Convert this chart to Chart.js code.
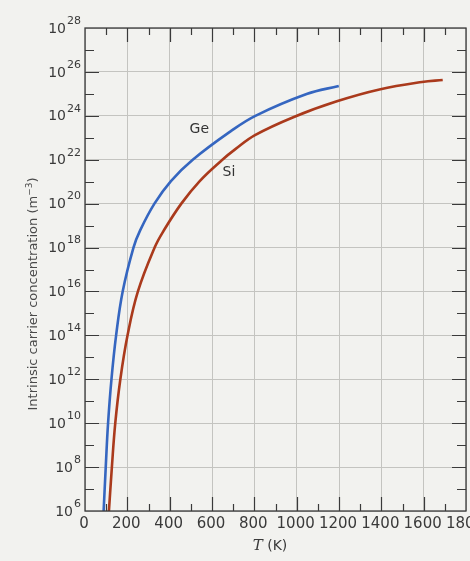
<!DOCTYPE html>
<html>
<head>
<meta charset="utf-8">
<script src="https://cdn.jsdelivr.net/npm/chart.js@4.4.1/dist/chart.umd.min.js"></script>
<style>
  html, body { margin: 0; padding: 0; background: #f2f2ef; }
  #wrap { width: 470px; height: 561px; }
</style>
</head>
<body>
<div id="wrap"><canvas id="c" width="470" height="561"></canvas></div>
<script>
// ---- data ----
const temperatureTicks = [0, 200, 400, 600, 800, 1000, 1200, 1400, 1600, 1800];
const concentrationExponents = [6, 8, 10, 12, 14, 16, 18, 20, 22, 24, 26, 28];

// Germanium: temperature (K) and intrinsic carrier concentration (m^-3)
const geTemperature = [88, 98, 109, 125, 147, 178, 229, 260, 328, 406, 509, 689, 805, 1047, 1199];
const geConcentration = [1e6, 1e8, 1e10, 1e12, 1e14, 1e16, 1e18, 5.9e18, 1e20, 1.07e21, 1e22, 2e23, 1e24, 9.8e24, 2.3e25];

// Silicon
const siTemperature = [113, 127, 143, 167, 201, 250, 329, 372, 455, 542, 649, 709, 803, 987, 1190, 1391, 1592, 1690];
const siConcentration = [1e6, 1e8, 1e10, 1e12, 1e14, 1e16, 1e18, 5.9e18, 1e20, 1.07e21, 1e22, 2.95e22, 1.32e23, 8.9e23, 4.57e24, 1.58e25, 3.47e25, 4.27e25];

const seriesLabels = [
  { text: 'Ge', x: 540, y: 2.3e23 },
  { text: 'Si', x: 680, y: 2.8e21 }
];
const xTitle = ['T', ' (K)'];
const yTitle = ['Intrinsic carrier concentration (m', '\u22123', ')'];

const geColor = '#3566c0';
const siColor = '#aa3a1c';
const inkColor = '#3a3a3a';

function toPoints(xs, ys) { return xs.map((x, i) => ({ x: x, y: ys[i] })); }

const decorPlugin = {
  id: 'decor',
  beforeDraw(chart) {
    const ctx = chart.ctx;
    ctx.save();
    ctx.fillStyle = '#f2f2ef';
    ctx.fillRect(0, 0, chart.width, chart.height);
    ctx.restore();
  },
  afterDraw(chart) {
    const ctx = chart.ctx;
    const a = chart.chartArea;
    const xs = chart.scales.x, ys = chart.scales.y;
    ctx.save();
    // frame
    ctx.strokeStyle = inkColor;
    ctx.lineWidth = 1.3;
    ctx.strokeRect(a.left, a.top, a.right - a.left, a.bottom - a.top);
    // x ticks (every 100 K, inward)
    ctx.lineWidth = 1.2;
    for (let t = 100; t < 1800; t += 100) {
      const px = Math.round(xs.getPixelForValue(t)) + 0.5;
      const len = (t % 200 === 0) ? 14 : 7;
      ctx.beginPath();
      ctx.moveTo(px, a.bottom); ctx.lineTo(px, a.bottom - len);
      ctx.moveTo(px, a.top); ctx.lineTo(px, a.top + len);
      ctx.stroke();
    }
    // y ticks (every decade, inward)
    for (let e = 7; e < 28; e++) {
      const py = Math.round(ys.getPixelForValue(Math.pow(10, e))) + 0.5;
      const len = (e % 2 === 0) ? 14 : 9;
      ctx.beginPath();
      ctx.moveTo(a.left, py); ctx.lineTo(a.left + len, py);
      ctx.moveTo(a.right, py); ctx.lineTo(a.right - len, py);
      ctx.stroke();
    }
    // x tick labels
    ctx.fillStyle = inkColor;
    ctx.font = '15px "DejaVu Sans"';
    ctx.textAlign = 'center';
    ctx.textBaseline = 'top';
    temperatureTicks.forEach(t => {
      ctx.fillText(String(t), xs.getPixelForValue(t) - 1, a.bottom + 6);
    });
    // y tick labels: 10 with superscript exponent
    ctx.textBaseline = 'middle';
    concentrationExponents.forEach(e => {
      const py = ys.getPixelForValue(Math.pow(10, e));
      ctx.font = '11px "DejaVu Sans"';
      const ew = ctx.measureText(String(e)).width;
      ctx.textAlign = 'right';
      ctx.fillText(String(e), a.left - 4, py - 7);
      ctx.font = '14px "DejaVu Sans"';
      ctx.fillText('10', a.left - 4 - ew - 1, py + 1);
    });
    // x title
    ctx.textBaseline = 'alphabetic';
    ctx.textAlign = 'left';
    ctx.font = 'italic 15px "DejaVu Serif"';
    const w1 = ctx.measureText(xTitle[0]).width;
    ctx.font = '14px "DejaVu Sans"';
    const w2 = ctx.measureText(xTitle[1]).width;
    const cx = 270, by = 550;
    ctx.font = 'italic 15px "DejaVu Serif"';
    ctx.fillText(xTitle[0], cx - (w1 + w2) / 2, by);
    ctx.font = '14px "DejaVu Sans"';
    ctx.fillText(xTitle[1], cx - (w1 + w2) / 2 + w1, by);
    // y title (rotated)
    ctx.save();
    ctx.translate(37, 294);
    ctx.rotate(-Math.PI / 2);
    ctx.fillStyle = '#4a4a4a';
    ctx.font = '13px "DejaVu Sans"';
    const m1 = ctx.measureText(yTitle[0]).width;
    ctx.font = '9px "DejaVu Sans"';
    const m2 = ctx.measureText(yTitle[1]).width;
    ctx.font = '13px "DejaVu Sans"';
    const m3 = ctx.measureText(yTitle[2]).width;
    let sx = -(m1 + m2 + m3) / 2;
    ctx.fillText(yTitle[0], sx, 0); sx += m1;
    ctx.font = '9px "DejaVu Sans"';
    ctx.fillText(yTitle[1], sx, -5); sx += m2;
    ctx.font = '13px "DejaVu Sans"';
    ctx.fillText(yTitle[2], sx, 0);
    ctx.restore();
    // series labels
    ctx.fillStyle = '#333';
    ctx.font = '14px "DejaVu Sans"';
    ctx.textAlign = 'center';
    ctx.textBaseline = 'middle';
    seriesLabels.forEach(l => {
      ctx.fillText(l.text, xs.getPixelForValue(l.x), ys.getPixelForValue(l.y));
    });
    ctx.restore();
  }
};

new Chart(document.getElementById('c'), {
  type: 'scatter',
  data: {
    datasets: [
      {
        label: 'Ge',
        data: toPoints(geTemperature, geConcentration),
        showLine: true,
        borderColor: geColor,
        borderWidth: 2.6,
        pointRadius: 0,
        tension: 0.4
      },
      {
        label: 'Si',
        data: toPoints(siTemperature, siConcentration),
        showLine: true,
        borderColor: siColor,
        borderWidth: 2.6,
        pointRadius: 0,
        tension: 0.4
      }
    ]
  },
  options: {
    responsive: false,
    animation: false,
    devicePixelRatio: 1,
    layout: { padding: { left: 85, right: 4, top: 28, bottom: 50 } },
    plugins: { legend: { display: false }, tooltip: { enabled: false }, title: { display: false } },
    scales: {
      x: {
        type: 'linear',
        min: 0, max: 1800,
        ticks: { display: false, stepSize: 200 },
        grid: { color: '#c4c4c0', lineWidth: 1, drawTicks: false },
        border: { display: false }
      },
      y: {
        type: 'logarithmic',
        min: 1e6, max: 1e28,
        afterBuildTicks(scale) {
          scale.ticks = concentrationExponents.map(e => ({ value: Math.pow(10, e) }));
        },
        ticks: { display: false },
        grid: { color: '#c4c4c0', lineWidth: 1, drawTicks: false },
        border: { display: false }
      }
    }
  },
  plugins: [decorPlugin]
});
</script>
</body>
</html>
